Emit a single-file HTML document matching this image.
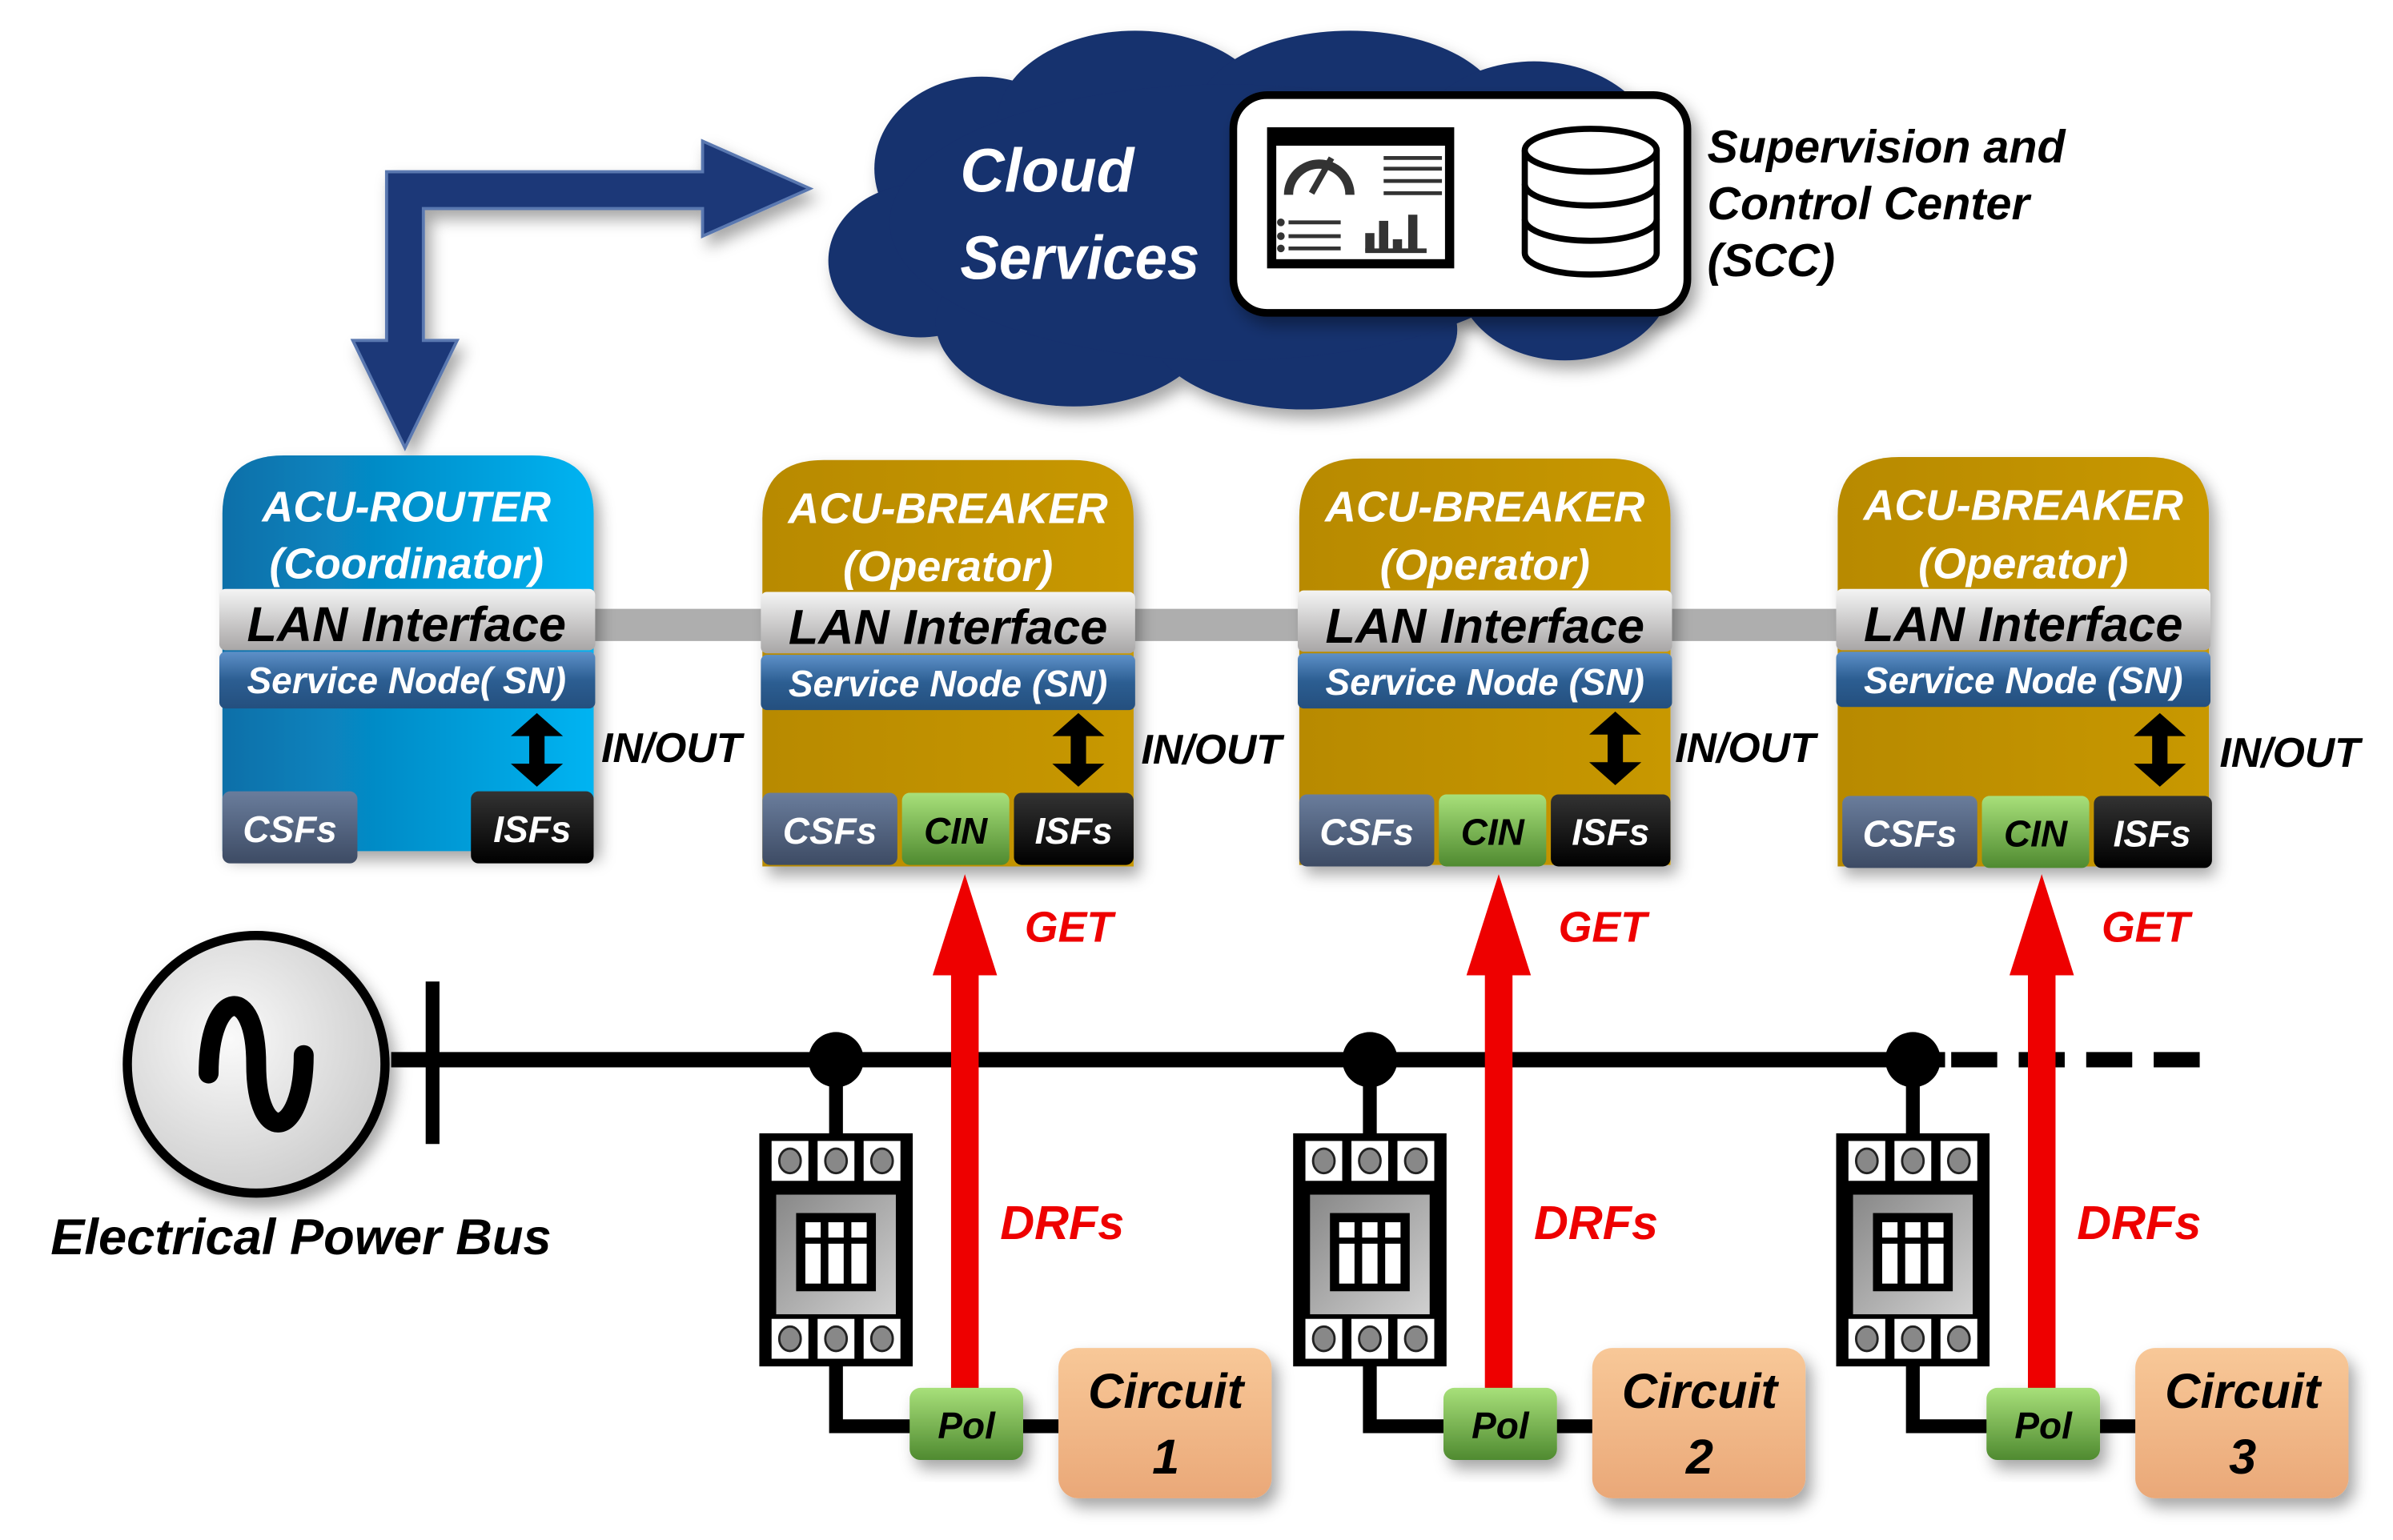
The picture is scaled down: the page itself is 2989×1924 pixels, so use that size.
<!DOCTYPE html>
<html><head><meta charset="utf-8">
<style>
html,body{margin:0;padding:0;background:#fff;}
svg{display:block;}
.t{font-family:"Liberation Sans Narrow","Liberation Sans",sans-serif;font-weight:bold;font-style:italic;}
.a{font-family:"Liberation Sans",sans-serif;font-weight:bold;font-style:italic;}
</style></head>
<body>
<svg width="2989" height="1924" viewBox="0 0 1560 1004.2" preserveAspectRatio="none" xmlns="http://www.w3.org/2000/svg">
<defs>
<linearGradient id="blue" x1="0" y1="0" x2="1" y2="0"><stop offset="0" stop-color="#0a6fa8"/><stop offset="1" stop-color="#00b4f2"/></linearGradient>
<linearGradient id="gold" x1="0" y1="0" x2="1" y2="0"><stop offset="0" stop-color="#b88a00"/><stop offset="1" stop-color="#c89800"/></linearGradient>
<linearGradient id="lan" x1="0" y1="0" x2="0" y2="1"><stop offset="0" stop-color="#f4f4f4"/><stop offset="1" stop-color="#a8a6a6"/></linearGradient>
<linearGradient id="sn" x1="0" y1="0" x2="0" y2="1"><stop offset="0" stop-color="#5d90c8"/><stop offset="0.5" stop-color="#2c5e92"/><stop offset="1" stop-color="#244f7e"/></linearGradient>
<linearGradient id="csf" x1="0" y1="0" x2="0" y2="1"><stop offset="0" stop-color="#6a7d9c"/><stop offset="1" stop-color="#3d4b64"/></linearGradient>
<linearGradient id="grn" x1="0" y1="0" x2="0" y2="1"><stop offset="0" stop-color="#a8e07a"/><stop offset="1" stop-color="#4f8a30"/></linearGradient>
<linearGradient id="blk" x1="0" y1="0" x2="0" y2="1"><stop offset="0" stop-color="#333"/><stop offset="1" stop-color="#000"/></linearGradient>
<linearGradient id="peach" x1="0" y1="0" x2="0" y2="1"><stop offset="0" stop-color="#f8c898"/><stop offset="1" stop-color="#eaa878"/></linearGradient>
<linearGradient id="gray" x1="0" y1="0" x2="1" y2="1"><stop offset="0" stop-color="#888"/><stop offset="1" stop-color="#d0d0d0"/></linearGradient>
<radialGradient id="gen" cx="0.4" cy="0.4" r="0.7"><stop offset="0" stop-color="#fafafa"/><stop offset="1" stop-color="#c8c8c8"/></radialGradient>
<filter id="sh" x="-20%" y="-20%" width="150%" height="150%"><feDropShadow dx="4" dy="6" stdDeviation="5" flood-color="#000" flood-opacity="0.35"/></filter>
<g id="brk">
  <rect x="0" y="0" width="100" height="152" fill="#000"/>
  <rect x="8" y="5" width="24" height="26" fill="#fff"/><rect x="38" y="5" width="24" height="26" fill="#fff"/><rect x="68" y="5" width="24" height="26" fill="#fff"/>
  <rect x="8" y="121" width="24" height="26" fill="#fff"/><rect x="38" y="121" width="24" height="26" fill="#fff"/><rect x="68" y="121" width="24" height="26" fill="#fff"/>
  <g fill="#888" stroke="#222" stroke-width="1.5">
   <ellipse cx="20" cy="18" rx="7" ry="8"/><ellipse cx="50" cy="18" rx="7" ry="8"/><ellipse cx="80" cy="18" rx="7" ry="8"/>
   <ellipse cx="20" cy="134" rx="7" ry="8"/><ellipse cx="50" cy="134" rx="7" ry="8"/><ellipse cx="80" cy="134" rx="7" ry="8"/>
  </g>
  <rect x="11" y="40" width="78" height="78" fill="url(#gray)"/>
  <rect x="24" y="52" width="52" height="51" fill="#000"/>
  <rect x="30" y="58" width="10" height="10" fill="#fff"/><rect x="45" y="58" width="10" height="10" fill="#fff"/><rect x="60" y="58" width="10" height="10" fill="#fff"/>
  <rect x="30" y="72" width="10" height="26" fill="#fff"/><rect x="45" y="72" width="10" height="26" fill="#fff"/><rect x="60" y="72" width="10" height="26" fill="#fff"/>
</g>
<g id="dbl">
  <rect x="-5" y="10" width="10" height="28" fill="#000"/>
  <polygon points="0,0 -17,15 17,15" fill="#000"/>
  <polygon points="0,48 -17,33 17,33" fill="#000"/>
</g>
</defs>

<!-- Cloud -->
<g fill="#14306e" filter="url(#sh)">
  <ellipse cx="640" cy="110" rx="70" ry="60"/>
  <ellipse cx="740" cy="80" rx="90" ry="60"/>
  <ellipse cx="880" cy="75" rx="100" ry="55"/>
  <ellipse cx="1000" cy="100" rx="80" ry="60"/>
  <ellipse cx="1020" cy="180" rx="70" ry="55"/>
  <ellipse cx="600" cy="170" rx="60" ry="50"/>
  <ellipse cx="700" cy="210" rx="90" ry="55"/>
  <ellipse cx="850" cy="215" rx="100" ry="52"/>
  <ellipse cx="800" cy="145" rx="220" ry="90"/>
</g>
<text x="626" y="125" class="a" font-size="40" fill="#fff">Cloud</text>
<text x="626" y="182" class="a" font-size="40" fill="#fff" textLength="156" lengthAdjust="spacingAndGlyphs">Services</text>

<!-- SCC box -->
<rect x="804" y="62" width="296" height="142" rx="22" fill="#fff" stroke="#000" stroke-width="5" filter="url(#sh)"/>
<rect x="826" y="83" width="122" height="92" fill="#000"/>
<rect x="832" y="95" width="110" height="74" fill="#fff"/>
<path d="M840 127 A20 20 0 0 1 880 127" fill="none" stroke="#333" stroke-width="6"/>
<line x1="855" y1="126" x2="868" y2="103" stroke="#333" stroke-width="4"/>
<g stroke="#333" stroke-width="2.5"><line x1="902" y1="103" x2="940" y2="103"/><line x1="902" y1="110" x2="940" y2="110"/><line x1="902" y1="118" x2="940" y2="118"/><line x1="902" y1="126" x2="940" y2="126"/>
<line x1="840" y1="145" x2="874" y2="145"/><line x1="840" y1="154" x2="874" y2="154"/><line x1="840" y1="162" x2="874" y2="162"/></g>
<g fill="#333"><circle cx="835" cy="145" r="2.5"/><circle cx="835" cy="154" r="2.5"/><circle cx="835" cy="162" r="2.5"/>
<rect x="890" y="152" width="6" height="12"/><rect x="899" y="144" width="6" height="20"/><rect x="908" y="156" width="6" height="8"/><rect x="918" y="140" width="6" height="24"/><rect x="890" y="162" width="40" height="3"/></g>
<g fill="none" stroke="#000" stroke-width="4">
 <path d="M994 98 L994 165 A43 14 0 0 0 1080 165 L1080 98"/>
 <ellipse cx="1037" cy="98" rx="43" ry="14" fill="#fff"/>
 <path d="M994 120 A43 14 0 0 0 1080 120"/>
 <path d="M994 143 A43 14 0 0 0 1080 143"/>
</g>
<text x="1113" y="106" class="a" font-size="30" fill="#000">Supervision and</text>
<text x="1113" y="143" class="a" font-size="30" fill="#000">Control Center</text>
<text x="1113" y="180" class="a" font-size="30" fill="#000">(SCC)</text>

<!-- Blue elbow arrow -->
<path d="M252 222 L252 112 L458 112 L458 92 L528 123 L458 154 L458 136 L276 136 L276 222 L298 222 L264 292 L230 222 Z" fill="#1a3778" stroke="#5a78b0" stroke-width="2" filter="url(#sh)"/>

<!-- LAN bar -->
<rect x="385" y="397" width="815" height="21" fill="#aeaeae"/>

<!-- Router -->
<g filter="url(#sh)">
<path d="M145 555 L145 335 Q145 297 185 297 L347 297 Q387 297 387 335 L387 555 Z" fill="url(#blue)"/>
</g>
<text x="265" y="340" text-anchor="middle" class="t" font-size="28" fill="#fff">ACU-ROUTER</text>
<text x="265" y="377" text-anchor="middle" class="t" font-size="28" fill="#fff">(Coordinator)</text>
<rect x="143" y="384" width="245" height="40" rx="4" fill="url(#lan)"/>
<text x="265" y="418" text-anchor="middle" class="t" font-size="32" fill="#000">LAN Interface</text>
<rect x="143" y="425" width="245" height="37" rx="4" fill="url(#sn)"/>
<text x="265" y="452" text-anchor="middle" class="t" font-size="24" fill="#fff">Service Node( SN)</text>
<use href="#dbl" x="350" y="465"/>
<rect x="145" y="516" width="88" height="47" rx="5" fill="url(#csf)"/>
<text x="189" y="549" text-anchor="middle" class="t" font-size="24" fill="#fff">CSFs</text>
<rect x="307" y="516" width="80" height="47" rx="5" fill="url(#blk)"/>
<text x="347" y="549" text-anchor="middle" class="t" font-size="24" fill="#fff">ISFs</text>
<text x="392" y="497" class="t" font-size="27" fill="#000">IN/OUT</text>

<!-- Breakers ACU -->
<g>
<g filter="url(#sh)"><path d="M497 565 L497 338 Q497 300 537 300 L699 300 Q739 300 739 338 L739 565 Z" fill="url(#gold)"/></g>
<text x="618" y="341" text-anchor="middle" class="t" font-size="28" fill="#fff">ACU-BREAKER</text>
<text x="618" y="379" text-anchor="middle" class="t" font-size="28" fill="#fff">(Operator)</text>
<rect x="496" y="386" width="244" height="40" rx="4" fill="url(#lan)"/>
<text x="618" y="420" text-anchor="middle" class="t" font-size="32" fill="#000">LAN Interface</text>
<rect x="496" y="427" width="244" height="36" rx="4" fill="url(#sn)"/>
<text x="618" y="454" text-anchor="middle" class="t" font-size="24" fill="#fff">Service Node (SN)</text>
<use href="#dbl" x="703" y="465"/>
<rect x="497" y="517" width="88" height="47" rx="5" fill="url(#csf)"/>
<text x="541" y="550" text-anchor="middle" class="t" font-size="24" fill="#fff">CSFs</text>
<rect x="588" y="517" width="70" height="47" rx="5" fill="url(#grn)"/>
<text x="623" y="550" text-anchor="middle" class="t" font-size="24" fill="#000">CIN</text>
<rect x="661" y="517" width="78" height="47" rx="5" fill="url(#blk)"/>
<text x="700" y="550" text-anchor="middle" class="t" font-size="24" fill="#fff">ISFs</text>
<text x="744" y="498" class="t" font-size="27" fill="#000">IN/OUT</text>
</g>
<g transform="translate(350,-1)">
<g filter="url(#sh)"><path d="M497 565 L497 338 Q497 300 537 300 L699 300 Q739 300 739 338 L739 565 Z" fill="url(#gold)"/></g>
<text x="618" y="341" text-anchor="middle" class="t" font-size="28" fill="#fff">ACU-BREAKER</text>
<text x="618" y="379" text-anchor="middle" class="t" font-size="28" fill="#fff">(Operator)</text>
<rect x="496" y="386" width="244" height="40" rx="4" fill="url(#lan)"/>
<text x="618" y="420" text-anchor="middle" class="t" font-size="32" fill="#000">LAN Interface</text>
<rect x="496" y="427" width="244" height="36" rx="4" fill="url(#sn)"/>
<text x="618" y="454" text-anchor="middle" class="t" font-size="24" fill="#fff">Service Node (SN)</text>
<use href="#dbl" x="703" y="465"/>
<rect x="497" y="519" width="88" height="47" rx="5" fill="url(#csf)"/>
<text x="541" y="552" text-anchor="middle" class="t" font-size="24" fill="#fff">CSFs</text>
<rect x="588" y="519" width="70" height="47" rx="5" fill="url(#grn)"/>
<text x="623" y="552" text-anchor="middle" class="t" font-size="24" fill="#000">CIN</text>
<rect x="661" y="519" width="78" height="47" rx="5" fill="url(#blk)"/>
<text x="700" y="552" text-anchor="middle" class="t" font-size="24" fill="#fff">ISFs</text>
<text x="742" y="498" class="t" font-size="27" fill="#000">IN/OUT</text>
</g>
<g transform="translate(701,-2)">
<g filter="url(#sh)"><path d="M497 567 L497 338 Q497 300 537 300 L699 300 Q739 300 739 338 L739 567 Z" fill="url(#gold)"/></g>
<text x="618" y="341" text-anchor="middle" class="t" font-size="28" fill="#fff">ACU-BREAKER</text>
<text x="618" y="379" text-anchor="middle" class="t" font-size="28" fill="#fff">(Operator)</text>
<rect x="496" y="386" width="244" height="40" rx="4" fill="url(#lan)"/>
<text x="618" y="420" text-anchor="middle" class="t" font-size="32" fill="#000">LAN Interface</text>
<rect x="496" y="427" width="244" height="36" rx="4" fill="url(#sn)"/>
<text x="618" y="454" text-anchor="middle" class="t" font-size="24" fill="#fff">Service Node (SN)</text>
<use href="#dbl" x="707" y="467"/>
<rect x="500" y="521" width="88" height="47" rx="5" fill="url(#csf)"/>
<text x="544" y="554" text-anchor="middle" class="t" font-size="24" fill="#fff">CSFs</text>
<rect x="591" y="521" width="70" height="47" rx="5" fill="url(#grn)"/>
<text x="626" y="554" text-anchor="middle" class="t" font-size="24" fill="#000">CIN</text>
<rect x="664" y="521" width="77" height="47" rx="5" fill="url(#blk)"/>
<text x="702" y="554" text-anchor="middle" class="t" font-size="24" fill="#fff">ISFs</text>
<text x="746" y="502" class="t" font-size="27" fill="#000">IN/OUT</text>
</g>

<!-- Power bus -->
<line x1="255" y1="691" x2="1268" y2="691" stroke="#000" stroke-width="10"/>
<line x1="1272" y1="691" x2="1435" y2="691" stroke="#000" stroke-width="10" stroke-dasharray="30,14"/>
<line x1="282" y1="640" x2="282" y2="746" stroke="#000" stroke-width="9"/>
<circle cx="167" cy="694" r="84" fill="url(#gen)" stroke="#000" stroke-width="6" filter="url(#sh)"/>
<path d="M136 700 C136 645 167 640 167 694 C167 748 198 743 198 688" fill="none" stroke="#000" stroke-width="13" stroke-linecap="round"/>
<text x="33" y="818" class="a" font-size="33" fill="#000">Electrical Power Bus</text>

<!-- Branch circuits -->
<g>
<circle cx="545" cy="691" r="18" fill="#000"/>
<polyline points="545,691 545,740 545,890 545,930 600,930" fill="none" stroke="#000" stroke-width="9"/>
<line x1="660" y1="930" x2="695" y2="930" stroke="#000" stroke-width="9"/>
<use href="#brk" x="495" y="739"/>
<rect x="620" y="630" width="18" height="280" fill="#ee0000"/>
<polygon points="629,570 608,636 650,636" fill="#ee0000"/>
<rect x="593" y="905" width="74" height="47" rx="7" fill="url(#grn)" filter="url(#sh)"/>
<text x="630" y="938" text-anchor="middle" class="t" font-size="24" fill="#000">Pol</text>
<rect x="690" y="879" width="139" height="98" rx="13" fill="url(#peach)" filter="url(#sh)"/>
<text x="760" y="918" text-anchor="middle" class="t" font-size="32" fill="#000">Circuit</text>
<text x="760" y="961" text-anchor="middle" class="t" font-size="32" fill="#000">1</text>
<text x="668" y="614" class="t" font-size="28" fill="#ee0000">GET</text>
<text x="652" y="808" class="t" font-size="31" fill="#ee0000">DRFs</text>
</g>
<g transform="translate(348,0)">
<circle cx="545" cy="691" r="18" fill="#000"/>
<polyline points="545,691 545,740 545,890 545,930 600,930" fill="none" stroke="#000" stroke-width="9"/>
<line x1="660" y1="930" x2="695" y2="930" stroke="#000" stroke-width="9"/>
<use href="#brk" x="495" y="739"/>
<rect x="620" y="630" width="18" height="280" fill="#ee0000"/>
<polygon points="629,570 608,636 650,636" fill="#ee0000"/>
<rect x="593" y="905" width="74" height="47" rx="7" fill="url(#grn)" filter="url(#sh)"/>
<text x="630" y="938" text-anchor="middle" class="t" font-size="24" fill="#000">Pol</text>
<rect x="690" y="879" width="139" height="98" rx="13" fill="url(#peach)" filter="url(#sh)"/>
<text x="760" y="918" text-anchor="middle" class="t" font-size="32" fill="#000">Circuit</text>
<text x="760" y="961" text-anchor="middle" class="t" font-size="32" fill="#000">2</text>
<text x="668" y="614" class="t" font-size="28" fill="#ee0000">GET</text>
<text x="652" y="808" class="t" font-size="31" fill="#ee0000">DRFs</text>
</g>
<g transform="translate(702,0)">
<circle cx="545" cy="691" r="18" fill="#000"/>
<polyline points="545,691 545,740 545,890 545,930 600,930" fill="none" stroke="#000" stroke-width="9"/>
<line x1="660" y1="930" x2="695" y2="930" stroke="#000" stroke-width="9"/>
<use href="#brk" x="495" y="739"/>
<rect x="620" y="630" width="18" height="280" fill="#ee0000"/>
<polygon points="629,570 608,636 650,636" fill="#ee0000"/>
<rect x="593" y="905" width="74" height="47" rx="7" fill="url(#grn)" filter="url(#sh)"/>
<text x="630" y="938" text-anchor="middle" class="t" font-size="24" fill="#000">Pol</text>
<rect x="690" y="879" width="139" height="98" rx="13" fill="url(#peach)" filter="url(#sh)"/>
<text x="760" y="918" text-anchor="middle" class="t" font-size="32" fill="#000">Circuit</text>
<text x="760" y="961" text-anchor="middle" class="t" font-size="32" fill="#000">3</text>
<text x="668" y="614" class="t" font-size="28" fill="#ee0000">GET</text>
<text x="652" y="808" class="t" font-size="31" fill="#ee0000">DRFs</text>
</g>
</svg>
</body></html>
